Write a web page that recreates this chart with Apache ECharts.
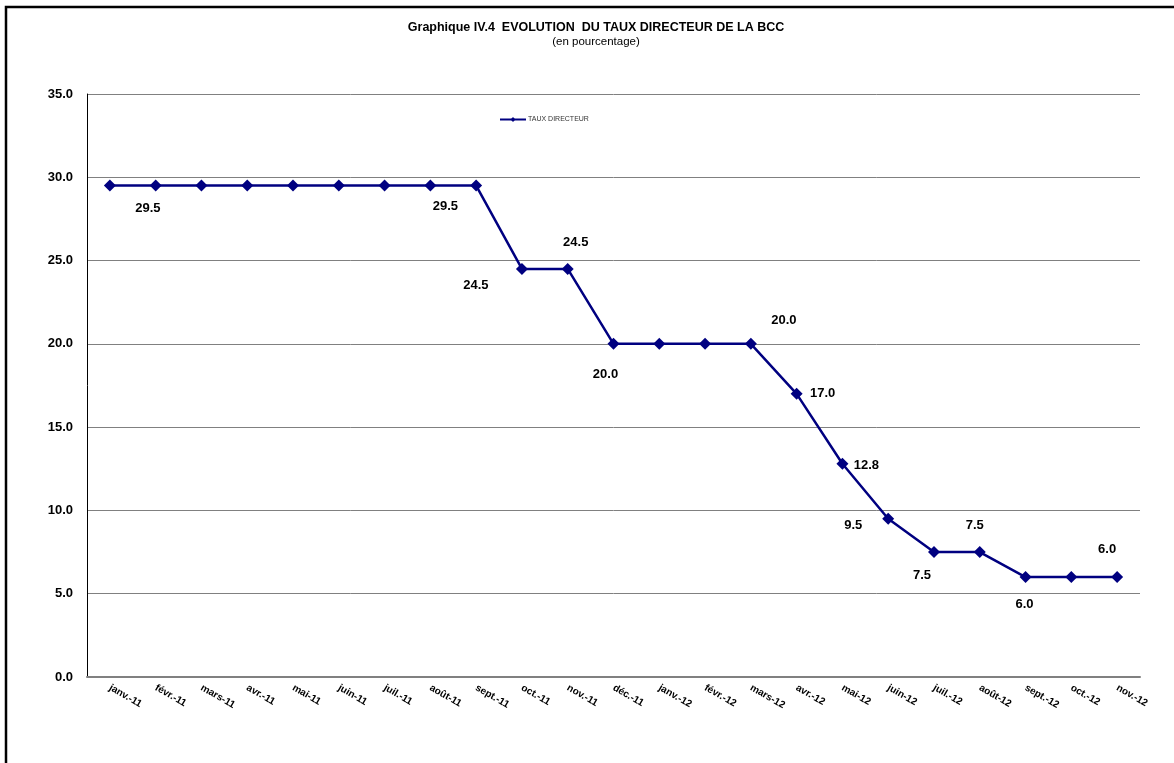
<!DOCTYPE html>
<html><head><meta charset="utf-8">
<script src="https://cdn.jsdelivr.net/npm/echarts@6/dist/echarts.min.js"></script>
<style>html,body{margin:0;padding:0;background:#fff}#c{width:1174px;height:763px}</style>
</head><body><div id="c"></div>
<script>
const categories = ['janv.-11','févr.-11','mars-11','avr.-11','mai-11','juin-11','juil.-11','août-11','sept.-11','oct.-11','nov.-11','déc.-11','janv.-12','févr.-12','mars-12','avr.-12','mai-12','juin-12','juil.-12','août-12','sept.-12','oct.-12','nov.-12'];
const tauxDirecteur = [29.5,29.5,29.5,29.5,29.5,29.5,29.5,29.5,29.5,24.5,24.5,20.0,20.0,20.0,20.0,17.0,12.8,9.5,7.5,7.5,6.0,6.0,6.0];
const yTicks = [0,5,10,15,20,25,30,35];
const seriesName = 'TAUX DIRECTEUR';

// label placement (style): index -> pixel offset from point
const labelOffsets = {0:[38,23],7:[15,21],9:[-46,17],10:[8,-26],11:[-8,31],14:[33,-23],15:[26,0],16:[24,2],17:[-35,7],18:[-12,23],19:[-5,-27],20:[-1,27],22:[-10,-28]};

const data = tauxDirecteur.map((v,i)=>{
  const o = labelOffsets[i];
  return o ? {value:v,label:{show:true,position:'inside',offset:o}} : {value:v};
});

const chart = echarts.init(document.getElementById('c'));
chart.setOption({
  animation:false,
  backgroundColor:'#fff',
  textStyle:{fontFamily:'Liberation Sans, Arial, sans-serif'},
  title:{
    text:'Graphique IV.4  EVOLUTION  DU TAUX DIRECTEUR DE LA BCC',
    subtext:'(en pourcentage)',
    left:591, top:16, textAlign:'center', itemGap:2,
    textStyle:{fontSize:12.5,fontWeight:'bold',color:'#000',fontFamily:'Liberation Sans, Arial, sans-serif'},
    subtextStyle:{fontSize:11.5,color:'#000',fontFamily:'Liberation Sans, Arial, sans-serif'}
  },
  legend:{
    left:494, top:111, itemWidth:26, itemHeight:6, itemGap:4,
    data:[{name:seriesName}],
    textStyle:{fontSize:7,color:'#333',padding:[0,0,0,-3]}
  },
  graphic:[{type:'rect',shape:{x:6,y:7,width:1300,height:900},style:{fill:'none',stroke:'#000',lineWidth:2.5},silent:true}],
  grid:{left:87,right:34,top:94,bottom:86},
  xAxis:{
    type:'category', data:categories, boundaryGap:true,
    axisLine:{lineStyle:{color:'#808080',width:2}},
    axisTick:{show:false},
    axisLabel:{rotate:-30,fontSize:10,fontWeight:'bold',color:'#000',margin:10,interval:0}
  },
  yAxis:{
    type:'value', min:0, max:35, interval:5,
    axisLine:{show:true,lineStyle:{color:'#000',width:1}},
    axisTick:{show:false},
    axisLabel:{fontSize:13,fontWeight:'bold',color:'#000',margin:14,formatter:v=>v.toFixed(1)},
    splitLine:{lineStyle:{color:'#808080',width:1}}
  },
  series:[{
    name:seriesName, type:'line', data:data,
    symbol:'diamond', symbolSize:12,
    lineStyle:{color:'#000080',width:2.5},
    itemStyle:{color:'#000080'},
    label:{show:false,fontSize:13,fontWeight:'bold',color:'#000',formatter:p=>Number(p.value).toFixed(1)}
  }]
});
</script></body></html>
